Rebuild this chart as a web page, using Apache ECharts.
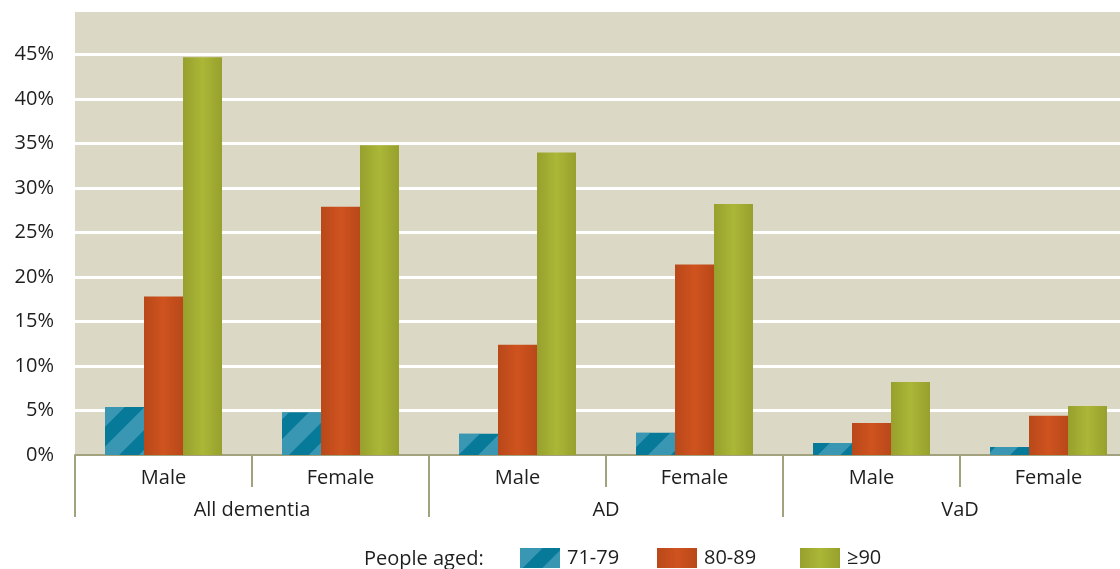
<!DOCTYPE html>
<html>
<head>
<meta charset="utf-8">
<script src="https://cdn.jsdelivr.net/npm/echarts@6/dist/echarts.min.js"></script>
<style>
html,body{margin:0;padding:0;background:#fff;overflow:hidden;width:1120px;height:569px;}
#chart{width:1137px;height:569px;}
</style>
</head>
<body>
<div id="chart"></div>
<script>
const sexLabels = ['Male', 'Female', 'Male', 'Female', 'Male', 'Female'];
const groupLabels = ['All dementia', 'AD', 'VaD'];
const seriesNames = ['71-79', '80-89', '\u226590'];
const aged7179 = [5.4, 4.8, 2.4, 2.5, 1.35, 0.9];
const aged8089 = [17.8, 27.9, 12.4, 21.4, 3.6, 4.4];
const aged90 = [44.7, 34.8, 34.0, 28.2, 8.2, 5.5];
const legendTitle = 'People aged:';

const FONT = '"Open Sans", Lato, sans-serif';
const TXT = '#1e1e1e';
function hGrad(edge, mid) {
  return {type:'linear', x:0, y:0, x2:1, y2:0, colorStops:[
    {offset:0, color:edge},{offset:0.5, color:mid},{offset:1, color:edge}]};
}
const legendLefts = [520, 657, 800];
const chart = echarts.init(document.getElementById('chart'));
chart.setOption({
  animation:false,
  backgroundColor:'#ffffff',
  title:{text:legendTitle, left:364, top:549, padding:0, textStyle:{fontFamily:FONT, fontSize:20, fontWeight:'normal', color:TXT}},
  legend: seriesNames.map((n, i) => ({
    left:legendLefts[i], top:548, padding:0, itemWidth:40, itemHeight:20, icon:'rect',
    textStyle:{fontFamily:FONT, fontSize:20, color:TXT, padding:[4,0,0,2]},
    data:[n]
  })),
  grid:{left:75, right:0, top:10, bottom:114, show:true, backgroundColor:'#dbd9c5', borderWidth:0},
  xAxis:[
    {type:'category', data:sexLabels, position:'bottom',
     axisLine:{show:true, lineStyle:{color:'#a3a27e', width:2}},
     axisTick:{show:true, interval:0, length:32, lineStyle:{color:'#a3a27e', width:2}},
     axisLabel:{margin:13, fontFamily:FONT, fontSize:20, color:TXT, interval:0}},
    {type:'category', data:groupLabels, position:'bottom',
     axisLine:{show:false},
     axisTick:{show:true, interval:0, length:62, lineStyle:{color:'#a3a27e', width:2}},
     axisLabel:{margin:45, fontFamily:FONT, fontSize:20, color:TXT, interval:0}}
  ],
  yAxis:{type:'value', min:0, max:50, interval:5,
    axisLine:{show:false}, axisTick:{show:false},
    axisLabel:{formatter:'{value}%', margin:21, fontFamily:FONT, fontSize:20, color:TXT, showMaxLabel:false},
    splitLine:{lineStyle:{color:'#ffffff', width:3}}
  },
  series:[
    {name:seriesNames[0], type:'bar', data:aged7179, barWidth:39, barGap:'0%', xAxisIndex:0,
     itemStyle:{color:'#077a9a',
       decal:{symbol:'rect', symbolSize:1, color:'rgba(92,170,196,0.6)', dashArrayX:[1,0], dashArrayY:[16,14], rotation:-Math.PI/4}}},
    {name:seriesNames[1], type:'bar', data:aged8089, barWidth:39, barGap:'0%', xAxisIndex:0,
     itemStyle:{color:hGrad('#b94819','#cf531f')}},
    {name:seriesNames[2], type:'bar', data:aged90, barWidth:39, barGap:'0%', xAxisIndex:0,
     itemStyle:{color:hGrad('#97a02d','#abb737')}}
  ]
});
</script>
</body>
</html>
